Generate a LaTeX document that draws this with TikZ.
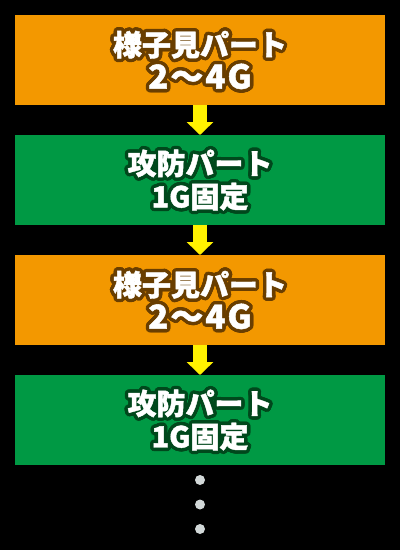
\documentclass[tikz,border=0pt]{standalone}
\usepackage{fontspec}
\newfontfamily\jp{Noto Sans CJK JP}[BoldFeatures={FakeBold=1.5}]
\usetikzlibrary{arrows.meta}
\definecolor{orgbox}{RGB}{243,152,0}
\definecolor{grnbox}{RGB}{0,153,68}
\definecolor{orgline}{RGB}{105,62,0}
\definecolor{grnline}{RGB}{0,72,28}
\definecolor{arrowyel}{RGB}{255,241,0}
\definecolor{dotgray}{RGB}{210,216,216}
\tikzset{
  box/.style={fill=#1, minimum width=370pt, minimum height=90pt, inner sep=0pt, outer sep=0pt},
  txt/.style={align=center, inner sep=0pt, font=\jp\bfseries\fontsize{29}{33}\selectfont},
  flow/.style={draw=arrowyel, line width=14pt, -{Triangle[length=13pt,width=26pt]}},
  dotmark/.style={circle, fill=dotgray, minimum size=10pt, inner sep=0pt}
}
\newcommand{\gline}{{\fontsize{33}{33}\selectfont 2\kern2pt〜\kern2pt4\kern2pt G}}
\newcommand{\outlabel}[4]{%
  \foreach \ang in {0,22.5,...,337.5}{%
    \path (#1.center) ++(\ang:3.5pt) node[txt, text=#2] {#4};}%
  \foreach \ang in {0,45,...,315}{%
    \path (#1.center) ++(\ang:1.8pt) node[txt, text=#2] {#4};}%
  \node[txt, text=white] (#3) at (#1.center) {#4};}
\begin{document}
\begin{tikzpicture}[x=1pt,y=-1pt]
\useasboundingbox (0,0) rectangle (400,550);
\fill[black] (0,0) rectangle (400,550);
\node[box=orgbox] (b1) at (200,60) {};
\node[box=grnbox] (b2) at (200,180) {};
\node[box=orgbox] (b3) at (200,300) {};
\node[box=grnbox] (b4) at (200,420) {};
\outlabel{b1}{orgline}{t1}{様子見パート\\\gline}
\outlabel{b2}{grnline}{t2}{攻防パート\\1G固定}
\outlabel{b3}{orgline}{t3}{様子見パート\\\gline}
\outlabel{b4}{grnline}{t4}{攻防パート\\1G固定}
\draw[flow] (b1.south) -- (b2.north);
\draw[flow] (b2.south) -- (b3.north);
\draw[flow] (b3.south) -- (b4.north);
\node[dotmark] (d1) at (200,480) {};
\node[dotmark] (d2) at (200,504.5) {};
\node[dotmark] (d3) at (200,529) {};
\end{tikzpicture}
\end{document}
